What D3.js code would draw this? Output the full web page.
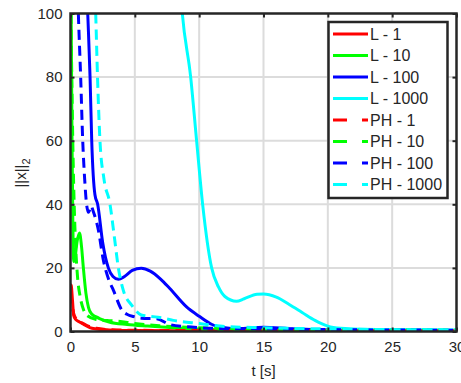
<!doctype html>
<html lang="en">
  <head>
    <meta charset="utf-8">
    <title>Norm vs time</title>
    <style>
      body { margin: 0; background: #fff; }
      text { font-family: "Liberation Sans", Arial, sans-serif; fill: #262626; }
    </style>
  </head>
  <body>
    <div id="chart"></div>
    <script src="https://d3js.org/d3.v7.min.js"></script>
    <script>
    // tick labels
    var xTicks = [0, 5, 10, 15, 20, 25, 30];
    var yTicks = [0, 20, 40, 60, 80, 100];

    // series names / colours, in drawing order
    var names = ["L - 1", "L - 10", "L - 100", "L - 1000", "PH - 1", "PH - 10", "PH - 100", "PH - 1000"];
    var colors = ["#ff0000", "#00ff00", "#0000ff", "#00ffff", "#ff0000", "#00ff00", "#0000ff", "#00ffff"];
    var dashed = [false, false, false, false, true, true, true, true];

    // values (t in s, ||x||_2)
    var tL1 = [0, 0.05, 0.15, 0.25, 0.4, 0.7, 1, 1.5, 2, 3, 5, 10, 30];
    var vL1 = [13, 14.6, 10, 5, 3.8, 3, 2.3, 1.2, 0.8, 0.5, 0.3, 0.2, 0.2];

    var tL10 = [0, 0.05, 0.12, 0.18, 0.25, 0.35, 0.5, 0.7, 0.85, 1.0, 1.2, 1.4, 1.65, 2.0, 2.3, 3, 4.4, 6, 8, 10, 15, 30];
    var vL10 = [115, 100, 60, 35, 22, 23, 28, 31, 27, 20, 12, 7.5, 5.5, 4.6, 4, 3, 2.2, 1.7, 1.2, 0.8, 0.5, 0.3];

    var tL100 = [1.2, 1.34, 1.52, 1.65, 1.9, 2.11, 2.5, 2.94, 3.3, 3.72, 4.2, 4.8, 5.5, 6.2, 7, 7.7, 9, 10, 11, 12, 13, 15, 17, 20, 30];
    var vL100 = [115, 100, 80, 60, 43, 40, 28, 20, 17.3, 16.4, 17.3, 19.2, 19.9, 19, 16.5, 13.6, 7.8, 4.8, 2.2, 1.2, 0.9, 1.3, 0.9, 0.5, 0.3];

    var tL1000 = [8.5, 8.69, 9.34, 9.8, 10.27, 10.97, 11.5, 12, 12.9, 13.5, 14.5, 15, 16, 17, 18, 19, 20, 21, 22, 25, 30];
    var vL1000 = [110, 100, 80, 60, 40, 20, 14, 11, 9.5, 10.3, 11.7, 11.8, 10.8, 8.5, 6, 3.5, 1.7, 1, 0.8, 0.6, 0.5];

    var tPH1 = [0, 0.1, 0.3, 0.6, 1, 1.5, 2, 3, 5, 10, 30];
    var vPH1 = [12, 9, 5, 3.5, 2.5, 1.5, 1, 0.6, 0.4, 0.3, 0.2];

    var tPH10 = [0, 0.1, 0.2, 0.3, 0.4, 0.55, 0.75, 1.0, 1.3, 2, 3, 3.6, 5, 7, 10, 15, 30];
    var vPH10 = [110, 80, 55, 38, 27, 17, 11, 7, 5, 3.8, 3.4, 3.3, 2.5, 1.8, 1.2, 0.7, 0.4];

    var tPH100 = [0.5, 0.61, 0.79, 0.95, 1.1, 1.25, 1.4, 1.6, 1.75, 2.16, 2.55, 3.0, 3.33, 3.98, 4.5, 4.9, 5.5, 6.7, 7.7, 9, 10, 12, 15, 20, 30];
    var vPH100 = [115, 100, 80, 60, 48, 40, 37.5, 39.5, 38, 32, 22.5, 16, 13, 6.8, 5.2, 4.7, 4.2, 4, 2.2, 1.5, 1.2, 0.9, 0.8, 0.6, 0.4];

    var tPH1000 = [1.85, 1.96, 2.1, 2.29, 2.6, 3.07, 3.4, 3.72, 4.1, 4.75, 5.5, 6.8, 8, 10, 12, 15, 20, 30];
    var vPH1000 = [115, 100, 80, 60, 48, 40, 30, 20, 13, 8.3, 5.2, 4.5, 3.5, 2.5, 1.6, 1.2, 0.8, 0.5];

    var ts = [tL1, tL10, tL100, tL1000, tPH1, tPH10, tPH100, tPH1000];
    var vs = [vL1, vL10, vL100, vL1000, vPH1, vPH10, vPH100, vPH1000];

    var W = 461, H = 383;
    var mLeft = 70.5, mRight = 456.5, mTop = 13.5, mBottom = 331.5;

    var svg = d3.select("#chart").append("svg")
        .attr("width", W)
        .attr("height", H);

    var x = d3.scaleLinear().domain([0, 30]).range([mLeft, mRight]);
    var y = d3.scaleLinear().domain([0, 100]).range([mBottom, mTop]);

    svg.append("clipPath").attr("id", "clip")
      .append("rect")
        .attr("x", mLeft).attr("y", mTop)
        .attr("width", mRight - mLeft).attr("height", mBottom - mTop);

    // grid
    svg.append("g").selectAll("line")
      .data(xTicks.slice(1, -1))
      .join("line")
        .attr("x1", d => x(d)).attr("x2", d => x(d))
        .attr("y1", mTop).attr("y2", mBottom)
        .attr("stroke", "#dcdcdc").attr("stroke-width", 2);
    svg.append("g").selectAll("line")
      .data(yTicks.slice(1, -1))
      .join("line")
        .attr("x1", mLeft).attr("x2", mRight)
        .attr("y1", d => y(d)).attr("y2", d => y(d))
        .attr("stroke", "#dcdcdc").attr("stroke-width", 2);

    // curves
    var line = d3.line()
        .x(d => x(d[0]))
        .y(d => y(d[1]))
        .curve(d3.curveMonotoneX);

    var plot = svg.append("g").attr("clip-path", "url(#clip)");
    names.forEach(function(n, i){
      plot.append("path")
        .datum(d3.zip(ts[i], vs[i]))
        .attr("d", line)
        .attr("fill", "none")
        .attr("stroke", colors[i])
        .attr("stroke-width", 3)
        .attr("stroke-dasharray", dashed[i] ? "10,6" : null);
    });

    // axes box (matlab style, ticks inside)
    var xAxis = d3.axisBottom(x).tickValues(xTicks).tickSize(-4).tickPadding(10);
    var yAxis = d3.axisLeft(y).tickValues(yTicks).tickSize(-4).tickPadding(8);

    svg.append("g").attr("transform", "translate(0," + mBottom + ")").call(xAxis)
      .call(g => g.selectAll("text").attr("font-size", 15).attr("font-family", null).attr("fill", "#262626"));
    svg.append("g").attr("transform", "translate(" + mLeft + ",0)").call(yAxis)
      .call(g => g.selectAll("text").attr("font-size", 15).attr("font-family", null).attr("fill", "#262626"));
    svg.append("g").attr("transform", "translate(0," + mTop + ")")
      .call(d3.axisTop(x).tickValues(xTicks).tickSize(-4).tickFormat(""));
    svg.append("g").attr("transform", "translate(" + mRight + ",0)")
      .call(d3.axisRight(y).tickValues(yTicks).tickSize(-4).tickFormat(""));

    svg.selectAll(".domain").remove();
    svg.selectAll(".tick line").attr("stroke", "#262626").attr("stroke-width", 2);

    svg.append("rect")
        .attr("x", mLeft).attr("y", mTop)
        .attr("width", mRight - mLeft).attr("height", mBottom - mTop)
        .attr("fill", "none")
        .attr("stroke", "#262626")
        .attr("stroke-width", 2.5);

    // labels
    svg.append("text")
        .attr("x", (mLeft + mRight) / 2).attr("y", 376)
        .attr("text-anchor", "middle")
        .attr("font-size", 15)
        .text("t [s]");

    var yl = svg.append("text")
        .attr("transform", "translate(26,173) rotate(-90)")
        .attr("text-anchor", "middle")
        .attr("font-size", 15);
    yl.append("tspan").text("||x||");
    yl.append("tspan").attr("font-size", 11).attr("dy", 4).text("2");

    // legend
    var lg = svg.append("g");
    lg.append("rect")
        .attr("x", 328.5).attr("y", 22)
        .attr("width", 119).attr("height", 176)
        .attr("fill", "#fff")
        .attr("stroke", "#262626")
        .attr("stroke-width", 2.5);

    names.forEach(function(n, i){
      var yy = 34 + i * 21.5;
      lg.append("line")
        .attr("x1", 333).attr("x2", 368)
        .attr("y1", yy).attr("y2", yy)
        .attr("stroke", colors[i])
        .attr("stroke-width", 3)
        .attr("stroke-dasharray", dashed[i] ? "14,15" : null);
      lg.append("text")
        .attr("x", 370).attr("y", yy + 5.5)
        .attr("font-size", 16)
        .text(n);
    });
    </script>
  </body>
</html>
